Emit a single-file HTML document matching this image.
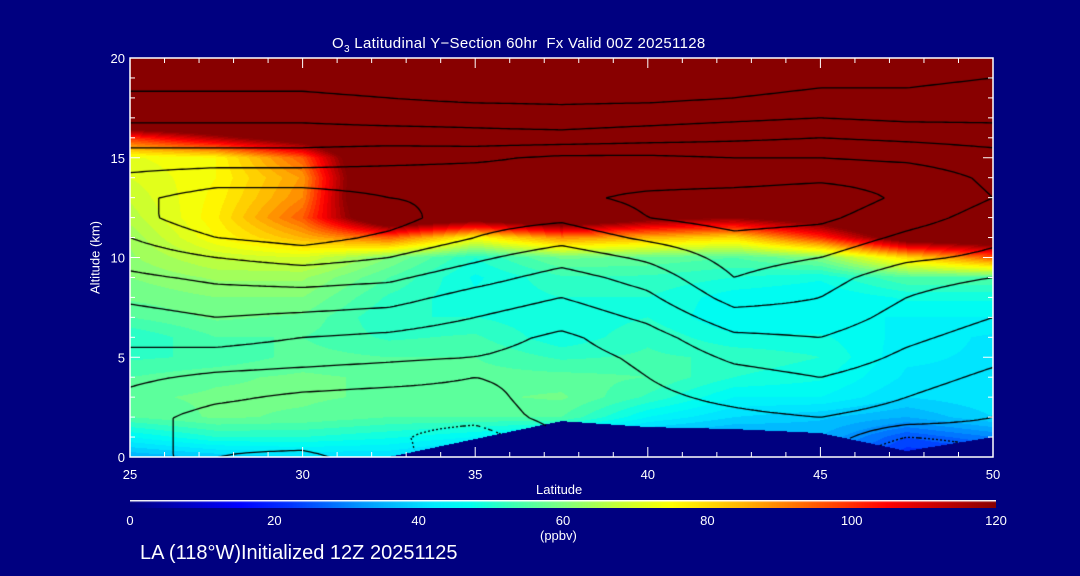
<!DOCTYPE html>
<html><head><meta charset="utf-8">
<style>
html,body{margin:0;padding:0;background:#000080;}
body{width:1080px;height:576px;position:relative;overflow:hidden;font-family:"Liberation Sans",sans-serif;color:#fff;}
.t{position:absolute;white-space:nowrap;color:#fff;}
canvas{position:absolute;}
</style></head>
<body>
<div class="t" style="left:332px;top:35px;font-size:15px;letter-spacing:0.3px;">O<sub style="font-size:10px;">3</sub> Latitudinal Y−Section 60hr&nbsp; Fx Valid 00Z 20251128</div>
<canvas id="plot" width="863" height="399" style="left:130px;top:58px;"></canvas>
<svg id="axes" width="1080" height="576" style="position:absolute;left:0;top:0;"></svg>
<div class="t" style="left:40px;top:250px;font-size:13px;transform:rotate(-90deg);transform-origin:center;width:110px;text-align:center;">Altitude (km)</div>
<div class="t" style="left:536px;top:482px;font-size:13px;">Latitude</div>
<canvas id="cbar" width="866" height="8" style="left:130px;top:500px;"></canvas>
<div class="t" style="left:540px;top:528px;font-size:13px;">(ppbv)</div>
<div class="t" style="left:140px;top:542px;font-size:20px;">LA (118°W)Initialized 12Z 20251125</div>
<script>
const lats=[25,27.5,30,32.5,35,37.5,40,42.5,45,47.5,50];
const alts=[20,19,18,17,16,15,14,13,12,11,10,9,8,7,6,5,4,3,2,1,0];
const terrain=[0,0,0,0,0.9,1.8,1.5,1.4,1.2,0.3,1.0];
const o3=[
[150,150,150,150,150,150,150,150,150,150,150],
[150,150,150,150,150,150,150,150,150,150,150],
[150,150,150,150,150,150,150,150,150,150,150],
[150,150,150,150,150,150,150,150,150,150,150],
[100,115,130,150,150,150,150,150,150,150,150],
[72,75,95,150,150,150,150,150,150,150,150],
[70,75,88,150,150,150,150,150,150,150,150],
[68,76,90,150,150,150,150,150,150,150,150],
[66,77,95,140,130,140,125,120,130,150,150],
[63,75,85,95,75,90,85,80,100,130,135],
[62,68,70,60,50,58,57,55,60,80,95],
[60,63,63,55,47,52,52,50,48,55,55],
[58,60,60,52,48,50,50,46,45,48,48],
[55,58,57,50,50,48,50,45,45,45,45],
[50,55,55,52,53,48,52,48,48,44,42],
[52,53,56,55,55,52,53,52,50,43,42],
[55,57,58,57,56,56,55,50,48,42,42],
[57,58,58,57,57,58,52,45,45,40,42],
[55,58,57,55,55,55,45,40,38,35,40],
[45,50,50,48,45,40,35,33,35,25,30],
[35,38,40,40,35,30,30,30,30,20,20]];
const wind=[
[6,6,5,5,5,5,5,5,6,6,7],
[8,8,8,7,7,7,7,8,9,9,10],
[11,11,11,10,9,9,9,10,11,11,12],
[14,14,14,13,13,12,13,14,15,14,14],
[18,18,18,18,17,17,18,19,20,19,18],
[22,22,22,23,24,26,26,25,25,24,22],
[26,28,28,28,28,28,28,28,29,28,24],
[29,32,32,30,29,29,31,32,33,29,25],
[28,34,35,32,27,26,30,32,31,27,23],
[25,30,32,29,25,22,26,29,28,24,21],
[22,25,27,25,21,17,21,27,25,21,19],
[19,21,22,21,17,13,17,25,22,17,15],
[16,18,18,17,13,10,14,22,20,15,12],
[13,15,14,13,10,7,11,18,18,13,10],
[11,12,10,9,7,4,8,14,15,11,8],
[9,8,7,6,5,3,6,11,13,9,6],
[6,4,3,2,0,2,5,8,10,7,4],
[4,1,-1,-2,-2,3,4,6,8,5,2],
[2,-2,-3,-3,-3,2,3,4,5,3,0],
[1,-1,-2,-4,-8,0,1,2,3,-5,-3],
[0,0,1,-2,-12,0,0,0,0,-12,-6]];
const contourLevels=[-10,-5,0,5,10,15,20,25,30,35];
const xTicks=[25,30,35,40,45,50];
const yTicks=[0,5,10,15,20];
const cbTicks=[0,20,40,60,80,100,120];

const X0=130,X1=993,Y0=58,Y1=457;
const xs=lat=>X0+(lat-25)/25*(X1-X0);
const ys=alt=>Y1-alt/20*(Y1-Y0);
const stops=[[0,[0,0,128]],[15,[0,0,255]],[22,[0,50,255]],[32,[0,150,255]],[42,[0,235,255]],[47,[0,255,240]],[53,[60,255,180]],[60,[128,255,128]],[68,[200,255,50]],[75,[255,255,0]],[85,[255,180,0]],[95,[255,90,0]],[105,[255,0,0]],[120,[136,0,0]]];
function cmap(v){v=Math.max(0,Math.min(120,v));for(let i=1;i<stops.length;i++){if(v<=stops[i][0]){const a=stops[i-1],b=stops[i],t=(v-a[0])/(b[0]-a[0]);return a[1].map((c,k)=>Math.round(c+(b[1][k]-c)*t));}}return stops[stops.length-1][1];}
function sample(grid,lat,alt){let fc=(lat-25)/2.5,fr=(20-alt);fc=Math.max(0,Math.min(10,fc));fr=Math.max(0,Math.min(20,fr));const c0=Math.min(9,Math.floor(fc)),r0=Math.min(19,Math.floor(fr));const tc=fc-c0,tr=fr-r0;const a=grid[r0][c0],b=grid[r0][c0+1],c=grid[r0+1][c0],d=grid[r0+1][c0+1];return (a*(1-tc)+b*tc)*(1-tr)+(c*(1-tc)+d*tc)*tr;}
function terr(lat){let fc=(lat-25)/2.5;fc=Math.max(0,Math.min(10,fc));const c0=Math.min(9,Math.floor(fc)),t=fc-c0;return terrain[c0]*(1-t)+terrain[c0+1]*t;}
const cv=document.getElementById('plot'),ctx=cv.getContext('2d');
const W=cv.width,H=cv.height,img=ctx.createImageData(W,H);
for(let py=0;py<H;py++){const alt=(Y1-(Y0+py+0.5))/(Y1-Y0)*20;for(let px=0;px<W;px++){const lat=25+(px+0.5)/W*25;let col;if(alt<terr(lat)){col=[0,0,128];}else{let v=sample(o3,lat,alt);v=Math.floor(v/2.5)*2.5+1.25;col=cmap(v);}const i=(py*W+px)*4;img.data[i]=col[0];img.data[i+1]=col[1];img.data[i+2]=col[2];img.data[i+3]=255;}}
ctx.putImageData(img,0,0);
// contours via marching squares
const step=4,nx=Math.ceil(W/step)+1,ny=Math.ceil(H/step)+1,F=[];
for(let j=0;j<ny;j++){F[j]=[];for(let i=0;i<nx;i++){const lat=25+i*step/W*25,alt=20-j*step/H*20;F[j][i]=sample(wind,lat,alt);}}
ctx.strokeStyle='#000';ctx.lineWidth=1.3;
for(const L of contourLevels){ctx.beginPath();if(L<0)ctx.setLineDash([2,3]);else ctx.setLineDash([]);
for(let j=0;j<ny-1;j++)for(let i=0;i<nx-1;i++){const v=[F[j][i],F[j][i+1],F[j+1][i+1],F[j+1][i]];const p=[[i,j],[i+1,j],[i+1,j+1],[i,j+1]];const pts=[];for(let e=0;e<4;e++){const a=v[e],b=v[(e+1)%4];if((a<L)!==(b<L)){const t=(L-a)/(b-a);const A=p[e],B=p[(e+1)%4];pts.push([(A[0]+(B[0]-A[0])*t)*step,(A[1]+(B[1]-A[1])*t)*step]);}}
for(let k=0;k+1<pts.length;k+=2){const mx=(pts[k][0]+pts[k+1][0])/2,my=(pts[k][1]+pts[k+1][1])/2;const lat=25+mx/W*25,alt=20-my/H*20;if(alt<terr(lat))continue;ctx.moveTo(pts[k][0],pts[k][1]);ctx.lineTo(pts[k+1][0],pts[k+1][1]);}}
ctx.stroke();}
ctx.setLineDash([]);
// colorbar
const cb=document.getElementById('cbar'),cc=cb.getContext('2d');
for(let x=0;x<cb.width;x++){const c=cmap(x/(cb.width-1)*120);cc.fillStyle=`rgb(${c[0]},${c[1]},${c[2]})`;cc.fillRect(x,1,1,7);}
cc.fillStyle='#fff';cc.fillRect(0,0,cb.width,1.5);
// axes
const svg=document.getElementById('axes'),NS='http://www.w3.org/2000/svg';
function el(tag,attrs,parent){const e=document.createElementNS(NS,tag);for(const k in attrs)e.setAttribute(k,attrs[k]);(parent||svg).appendChild(e);return e;}
const frame=el('rect',{x:X0,y:Y0,width:X1-X0,height:Y1-Y0,fill:'none',stroke:'#fff','stroke-width':1.5});


for(let lat=25;lat<=50;lat++){const major=lat%5===0,len=major?10:5;const x=xs(lat);
const t1=el('line',{x1:x,x2:x,y1:Y1,y2:Y1-len,stroke:'#fff','stroke-width':1});


const t2=el('line',{x1:x,x2:x,y1:Y0,y2:Y0+len,stroke:'#fff','stroke-width':1});

}
for(const lat of xTicks){const t=el('text',{x:xs(lat),y:Y1+22,fill:'#fff','font-size':13,'text-anchor':'middle','font-family':'Liberation Sans, sans-serif'});t.textContent=lat;

}
for(let a=0;a<=20;a++){const major=a%5===0,len=major?10:5;const y=ys(a);
const t1=el('line',{x1:X0,x2:X0+len,y1:y,y2:y,stroke:'#fff','stroke-width':1});


const t2=el('line',{x1:X1,x2:X1-len,y1:y,y2:y,stroke:'#fff','stroke-width':1});

}
for(const a of yTicks){const t=el('text',{x:X0-5,y:ys(a)+5,fill:'#fff','font-size':13,'text-anchor':'end','font-family':'Liberation Sans, sans-serif'});t.textContent=a;

}
for(const v of cbTicks){const t=el('text',{x:130+v/120*866,y:525,fill:'#fff','font-size':13,'text-anchor':'middle','font-family':'Liberation Sans, sans-serif'});t.textContent=v;

}
</script>
</body></html>
